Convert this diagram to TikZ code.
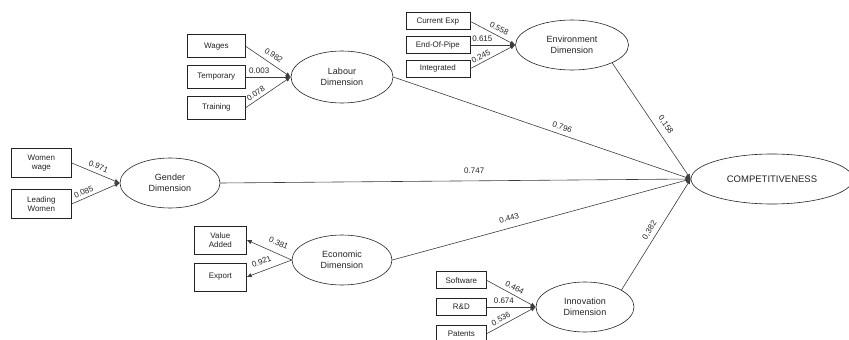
\documentclass[tikz,border=0pt]{standalone}
\usepackage{fontspec}
\setmainfont{Liberation Sans}
\usepackage{xcolor}
\usepackage{tikz}
\usetikzlibrary{shapes.geometric, arrows.meta, positioning}
\definecolor{dkgray}{RGB}{35,35,35}
\definecolor{medgray}{RGB}{60,60,60}
\tikzset{
    construct/.style={ellipse, draw=dkgray, line width=0.6pt, minimum width=102pt,
                      minimum height=52pt, align=center, inner sep=0pt,
                      font=\fontsize{9}{10.5}\selectfont, text=dkgray},
    indicator/.style={rectangle, draw=dkgray, line width=0.7pt, minimum width=58pt,
                      minimum height=23pt, align=center, inner sep=1pt,
                      font=\fontsize{8}{9}\selectfont, text=dkgray},
    arrow/.style={-{Latex[length=5pt, width=4.5pt]}, line width=0.6pt, draw=medgray},
    coef/.style={font=\fontsize{8}{9}\selectfont, text=dkgray, inner sep=1pt, sloped, above=2pt},
}

\begin{document}
\begin{tikzpicture}[x=1pt, y=-1pt]
    \useasboundingbox (0,0) rectangle (849,340);

    % Dimensions
    \node[construct] (lab) at (342,77) {Labour\\Dimension};
    \node[construct, minimum width=113pt, minimum height=50pt] (env) at (572,45) {Environment\\Dimension};
    \node[construct, minimum width=100pt, minimum height=50pt] (gen) at (170,183) {Gender\\Dimension};
    \node[construct, minimum width=100pt, minimum height=50pt] (eco) at (342,260) {Economic\\Dimension};
    \node[construct, minimum width=98pt, minimum height=50pt] (inn) at (585,307) {Innovation\\Dimension};
    \node[construct, minimum width=162pt, minimum height=50pt,
          font=\fontsize{9.5}{11}\selectfont] (comp) at (772,179) {COMPETITIVENESS};

    % Labour indicators
    \node[indicator, left=45pt of lab] (tmp) {Temporary};
    \node[indicator, above=7pt of tmp] (wag) {Wages};
    \node[indicator, below=7pt of tmp] (trn) {Training};

    % Environment indicators
    \node[indicator, minimum width=64pt, minimum height=17pt, left=45pt of env] (eop) {End-Of-Pipe};
    \node[indicator, minimum width=64pt, minimum height=17pt, above=6pt of eop] (cur) {Current Exp};
    \node[indicator, minimum width=64pt, minimum height=17pt, below=6pt of eop] (itg) {Integrated};

    % Gender indicators
    \node[indicator, minimum width=60pt, minimum height=29pt, left=48pt of gen, yshift=20pt] (wwg) {Women\\wage};
    \node[indicator, minimum width=60pt, minimum height=29pt, left=48pt of gen, yshift=-21pt] (lwm) {Leading\\Women};

    % Economic indicators
    \node[indicator, minimum width=52pt, minimum height=28pt, left=45pt of eco, yshift=20pt] (vad) {Value\\Added};
    \node[indicator, minimum width=52pt, minimum height=28pt, left=45pt of eco, yshift=-17pt] (exp) {Export};

    % Innovation indicators
    \node[indicator, minimum width=50pt, minimum height=17pt, left=49pt of inn] (rnd) {R\&D};
    \node[indicator, minimum width=50pt, minimum height=17pt, above=9pt of rnd] (sft) {Software};
    \node[indicator, minimum width=50pt, minimum height=17pt, below=9pt of rnd] (pat) {Patents};

    % Indicator arrows
    \draw[arrow] (wag.east) -- node[coef, pos=.52, above=4pt] {0.982} (lab.west);
    \draw[arrow] (tmp.east) -- node[coef, pos=.3] {0.003} (lab.west);
    \draw[arrow] (trn.east) -- node[coef, pos=.3] {0.078} (lab.west);
    \draw[arrow] (cur.east) -- node[coef, pos=.57, above=3pt] {0.558} (env.west);
    \draw[arrow] (eop.east) -- node[coef, pos=.27] {0.615} (env.west);
    \draw[arrow] (itg.east) -- node[coef, pos=.3] {0.245} (env.west);
    \draw[arrow] (wwg.east) -- node[coef, pos=.5, above=3pt] {0.971} (gen.west);
    \draw[arrow] (lwm.east) -- node[coef, pos=.3] {0.085} (gen.west);
    \draw[arrow] (eco.west) -- node[coef, pos=.38, above=6pt] {0.381} (vad.east);
    \draw[arrow] (eco.west) -- node[coef, pos=.6, above=5pt] {0.921} (exp.east);
    \draw[arrow] (sft.east) -- node[coef, pos=.5, above=3pt] {0.464} (inn.west);
    \draw[arrow] (rnd.east) -- node[coef, pos=.35] {0.674} (inn.west);
    \draw[arrow] (pat.east) -- node[coef, pos=.35] {0.536} (inn.west);

    % Paths to competitiveness
    \draw[arrow] (lab.east) -- node[coef, pos=.56, above=3pt] {0.796} (comp.west);
    \draw[arrow] (env.-24) -- node[coef, pos=.58, above=5pt] {0,158} (comp.west);
    \draw[arrow] (gen.east) -- node[coef, pos=.54, above=6pt] {0.747} (comp.west);
    \draw[arrow] (eco.east) -- node[coef, pos=.4, above=5pt] {0,443} (comp.west);
    \draw[arrow] (inn.25) -- node[coef, pos=.5, above=3pt] {0,382} (comp.west);
\end{tikzpicture}
\end{document}
